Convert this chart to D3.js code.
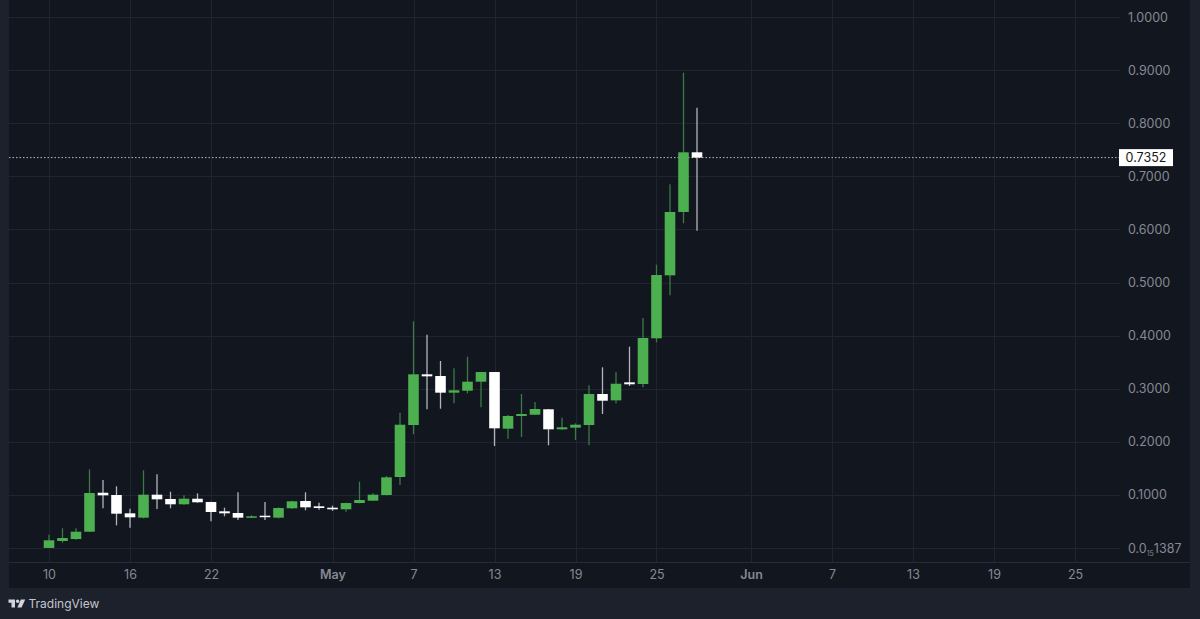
<!DOCTYPE html>
<html>
<head>
<meta charset="utf-8">
<script src="https://cdn.jsdelivr.net/npm/d3@7"></script>
<style>
  html, body { margin: 0; padding: 0; background: #1c212b; overflow: hidden; }
  text { font-family: Inter, "Noto Sans", sans-serif; }
  .priceAxis text, .timeAxis text { fill: #868993; font-size: 12.5px; }
  .axis-line { display: none; }
</style>
</head>
<body>
<div id="chart"></div>
<script>
// one entry per daily candle
var days = ["2024-04-10","2024-04-11","2024-04-12","2024-04-13","2024-04-14","2024-04-15","2024-04-16","2024-04-17","2024-04-18","2024-04-19","2024-04-20","2024-04-21","2024-04-22","2024-04-23","2024-04-24","2024-04-25","2024-04-26","2024-04-27","2024-04-28","2024-04-29","2024-04-30","2024-05-01","2024-05-02","2024-05-03","2024-05-04","2024-05-05","2024-05-06","2024-05-07","2024-05-08","2024-05-09","2024-05-10","2024-05-11","2024-05-12","2024-05-13","2024-05-14","2024-05-15","2024-05-16","2024-05-17","2024-05-18","2024-05-19","2024-05-20","2024-05-21","2024-05-22","2024-05-23","2024-05-24","2024-05-25","2024-05-26","2024-05-27","2024-05-28"];
var opens = [.0001,.0132,.0169,.0307,.1041,.0998,.0653,.0571,.1004,.0923,.0823,.0928,.0866,.0691,.0659,.0571,.0608,.0571,.0748,.0885,.0785,.0759,.0729,.0847,.0891,.0998,.1337,.2316,.3271,.3239,.2925,.2962,.3132,.3314,.2247,.2486,.2510,.2612,.2235,.2266,.2316,.2900,.2781,.3120,.3088,.3949,.5135,.6328,.7452];
var highs = [.0250,.0371,.0371,.1482,.1281,.1162,.0740,.1463,.1388,.1060,.0992,.1030,.0872,.0759,.1049,.0616,.0866,.0766,.0891,.1049,.0853,.0797,.0853,.1249,.1030,.1356,.2548,.4269,.4017,.3522,.3384,.3603,.3314,.3314,.2505,.2900,.2749,.2618,.2454,.2348,.3064,.3403,.3314,.3791,.4331,.5335,.6849,.8951,.8292];
var lows = [.0001,.0100,.0156,.0307,.0748,.0427,.0382,.0559,.0734,.0748,.0815,.0853,.0503,.0597,.0527,.0565,.0527,.0559,.0740,.0710,.0721,.0702,.0684,.0842,.0885,.0992,.1186,.2141,.2612,.2623,.2725,.2913,.2650,.1921,.2058,.2090,.2505,.1934,.2222,.2034,.1934,.2523,.2725,.3051,.3026,.3874,.4759,.6115,.5975];
var closes = [.0145,.0188,.0307,.1036,.0992,.0646,.0578,.1004,.0917,.0823,.0928,.0861,.0678,.0653,.0571,.0597,.0584,.0753,.0879,.0766,.0753,.0729,.0847,.0904,.1004,.1331,.2322,.3271,.3233,.2925,.2970,.3132,.3314,.2254,.2486,.2523,.2618,.2235,.2273,.2322,.2900,.2774,.3094,.3083,.3955,.5141,.6328,.7452,.7352];

var priceTicks = [1, .9, .8, .7, .6, .5, .4, .3, .2, .1, 0];
var priceLabels = ["1.0000","0.9000","0.8000","0.7000","0.6000","0.5000","0.4000","0.3000","0.2000","0.1000","0.0"];
var timeTicks = ["2024-04-10","2024-04-16","2024-04-22","2024-05-01","2024-05-07","2024-05-13","2024-05-19","2024-05-25","2024-06-01","2024-06-07","2024-06-13","2024-06-19","2024-06-25"];
var timeLabels = ["10","16","22","May","7","13","19","25","Jun","7","13","19","25"];
var lastPrice = 0.7352;

var width = 1200;
var height = 619;

var parseDay = d3.utcParse("%Y-%m-%d");

var svg = d3.select("#chart").append("svg")
  .attr("width", width)
  .attr("height", height)
  .style("display", "block");

// frame and panes
svg.append("rect").attr("width", width).attr("height", height).attr("fill", "#1c212b");
svg.append("rect").attr("x", 9).attr("y", 0).attr("width", 1181).attr("height", 588).attr("fill", "#12161f");

var x = d3.scaleUtc()
  .domain([parseDay("2024-04-10"), parseDay("2024-06-25")])
  .range([49, 1075]);
var y = d3.scaleLinear().domain([0, 1]).range([548, 17]);

// grid
var grid = svg.append("g").attr("stroke", "#1f2430").attr("stroke-width", 1);
grid.selectAll("line.h").data(priceTicks).enter().append("line")
  .attr("class", "h")
  .attr("x1", 9).attr("x2", 1120)
  .attr("y1", function(d) { return Math.round(y(d)) + 0.5; })
  .attr("y2", function(d) { return Math.round(y(d)) + 0.5; });
grid.selectAll("line.v").data(timeTicks).enter().append("line")
  .attr("class", "v")
  .attr("y1", 0).attr("y2", 562)
  .attr("x1", function(d) { return Math.round(x(parseDay(d))) + 0.5; })
  .attr("x2", function(d) { return Math.round(x(parseDay(d))) + 0.5; });

svg.append("line").attr("x1", 9).attr("x2", 1190).attr("y1", 562.5).attr("y2", 562.5).attr("stroke", "#262b36");

// last price line goes under the candles
svg.append("line")
  .attr("x1", 9).attr("x2", 1120)
  .attr("y1", y(lastPrice)).attr("y2", y(lastPrice))
  .attr("stroke", "#b9bcc4")
  .attr("stroke-width", 1)
  .attr("stroke-dasharray", "1.5 2");

// candles
var candles = svg.append("g").selectAll("g").data(days).enter().append("g");

candles.append("line")
  .attr("x1", function(d) { return x(parseDay(d)); })
  .attr("x2", function(d) { return x(parseDay(d)); })
  .attr("y1", function(d, i) { return y(highs[i]); })
  .attr("y2", function(d, i) { return y(lows[i]); })
  .attr("stroke-width", 1.3)
  .attr("stroke", function(d, i) { return closes[i] >= opens[i] ? "#3c7a48" : "#b4b5bd"; });

candles.append("rect")
  .attr("x", function(d) { return x(parseDay(d)) - 5.3; })
  .attr("width", 10.6)
  .attr("y", function(d, i) { return y(Math.max(opens[i], closes[i])); })
  .attr("height", function(d, i) { return Math.max(1.5, Math.abs(y(opens[i]) - y(closes[i]))); })
  .attr("fill", function(d, i) { return closes[i] >= opens[i] ? "#4caf50" : "#ffffff"; });

// price axis
var priceAxis = d3.axisRight(y)
  .tickValues(priceTicks)
  .tickSize(0)
  .tickPadding(0)
  .tickFormat(function(d, i) { return priceLabels[i]; });

var priceG = svg.append("g")
  .attr("class", "priceAxis")
  .attr("transform", "translate(1128,0)")
  .call(priceAxis);
priceG.select(".domain").remove();

// the zero label has the compressed zeros written as a subscript
var zeroLabel = priceG.selectAll(".tick text").filter(function(d) { return d === 0; });
zeroLabel.append("tspan").attr("dy", "3").style("font-size", "7px").text("15");
zeroLabel.append("tspan").attr("dy", "-3").text("1387");

// time axis
var timeAxis = d3.axisBottom(x)
  .tickValues(timeTicks.map(parseDay))
  .tickSize(0)
  .tickPadding(0)
  .tickFormat(function(d, i) { return timeLabels[i]; });

var timeG = svg.append("g")
  .attr("class", "timeAxis")
  .attr("transform", "translate(0,570)")
  .call(timeAxis);
timeG.select(".domain").remove();
timeG.selectAll(".tick text")
  .style("font-weight", function(d, i) { return isNaN(+timeLabels[i]) ? 600 : 400; });

// last price tag
svg.append("rect")
  .attr("x", 1119).attr("y", y(lastPrice) - 8.5)
  .attr("width", 54).attr("height", 17)
  .attr("fill", "#ffffff");
svg.append("text")
  .attr("x", 1146).attr("y", y(lastPrice))
  .attr("dy", "0.35em")
  .attr("text-anchor", "middle")
  .attr("fill", "#131722")
  .style("font-size", "12.5px")
  .text("0.7352");

// TradingView mark
var logo = svg.append("g").attr("fill", "#d1d4dc");
logo.append("path").attr("d", "M8.5 599.5H15V607.5H11.5V602.8H8.5Z");
logo.append("circle").attr("cx", 17.6).attr("cy", 601.2).attr("r", 1.7);
logo.append("path").attr("d", "M20.8 599.5H25.2L21.6 607.5H17.4Z");
svg.append("text")
  .attr("x", 28.5).attr("y", 604)
  .attr("dy", "0.35em")
  .attr("fill", "#c3c6ce")
  .style("font-size", "12px")
  .text("TradingView");
</script>
</body>
</html>
